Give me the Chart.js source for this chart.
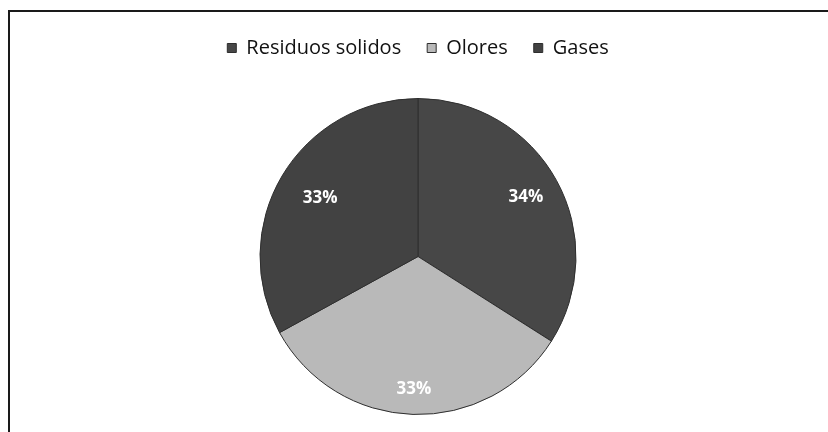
<!DOCTYPE html>
<html>
<head>
<meta charset="utf-8">
<script src="https://cdn.jsdelivr.net/npm/chart.js@4/dist/chart.umd.min.js"></script>
<style>
    html, body { margin: 0; padding: 0; background: #fff; overflow: hidden; }
    #wrap { position: relative; width: 828px; height: 432px; overflow: hidden; }
    #frame {
        position: absolute; left: 8px; top: 10px; width: 830px; height: 440px;
        border-left: 2px solid #1a1a1a; border-top: 2px solid #1a1a1a;
        pointer-events: none;
    }
    canvas { position: absolute; left: 0; top: 0; }
</style>
</head>
<body>
<div id="wrap">
    <canvas id="pieChart" width="828" height="446"></canvas>
    <div id="frame"></div>
</div>
<script>
const categories = ['Residuos solidos', 'Olores', 'Gases'];
const percentages = [34, 33, 33];
const sliceColors = ['#474747', '#b9b9b9', '#424242'];
// que tan lejos del centro va cada etiqueta (fraccion del radio)
const labelDistance = [0.78, 0.84, 0.72];

// dibuja los porcentajes en blanco dentro de cada porcion
const pieLabels = {
    id: 'pieLabels',
    afterDatasetsDraw(chart) {
        const ctx = chart.ctx;
        const meta = chart.getDatasetMeta(0);
        ctx.save();
        ctx.font = 'bold 17px "Open Sans", sans-serif';
        ctx.fillStyle = '#ffffff';
        ctx.textAlign = 'center';
        ctx.textBaseline = 'middle';
        meta.data.forEach((arc, i) => {
            const p = arc.getProps(['x', 'y', 'startAngle', 'endAngle', 'outerRadius'], true);
            const mid = (p.startAngle + p.endAngle) / 2;
            const r = p.outerRadius * labelDistance[i];
            ctx.fillText(percentages[i] + '%', p.x + Math.cos(mid) * r, p.y + Math.sin(mid) * r);
        });
        ctx.restore();
    }
};

const ctx = document.getElementById('pieChart').getContext('2d');

new Chart(ctx, {
    type: 'pie',
    data: {
        labels: categories,
        datasets: [{
            data: percentages,
            backgroundColor: sliceColors,
            borderColor: '#2e2e2e',
            borderWidth: 1,
            radius: 158
        }]
    },
    options: {
        responsive: false,
        animation: false,
        layout: {
            padding: { top: 12, left: 8, right: 0, bottom: 1 }
        },
        plugins: {
            legend: {
                display: true,
                position: 'top',
                labels: {
                    boxWidth: 9,
                    boxHeight: 9,
                    padding: 26,
                    color: '#111',
                    font: { family: '"Open Sans", sans-serif', size: 20 }
                }
            },
            tooltip: { enabled: false }
        }
    },
    plugins: [pieLabels]
});
</script>
</body>
</html>
